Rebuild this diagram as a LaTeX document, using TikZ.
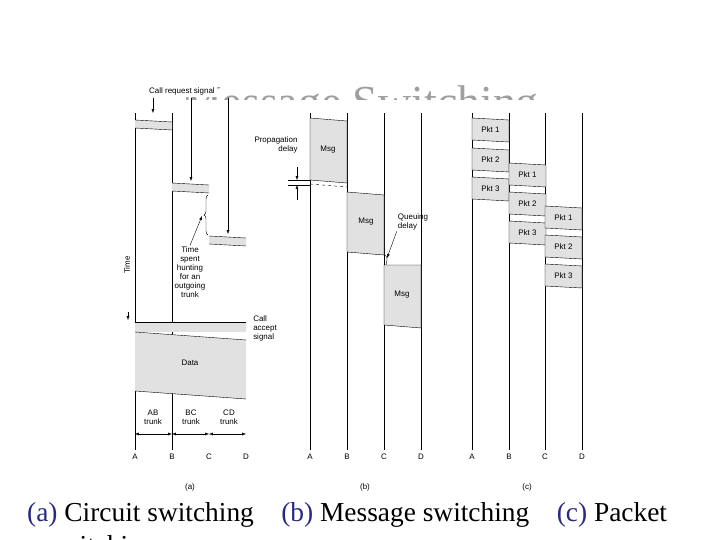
\documentclass[tikz,border=0pt]{standalone}
\usepackage{fontspec}
\setmainfont{Liberation Serif}
\setsansfont{Liberation Sans}
\usetikzlibrary{positioning,calc,arrows.meta,decorations.pathreplacing}
\definecolor{capblue}{RGB}{40,40,130}
\definecolor{pktgray}{RGB}{225,225,225}

\begin{document}
\begin{tikzpicture}[
    x=1bp, y=-1bp,
    lbl/.style={font=\sffamily\fontsize{8}{9}\selectfont, align=center, inner sep=1pt},
    captext/.style={anchor=base west, font=\fontsize{27.5}{31}\selectfont, inner sep=0pt},
    pkt/.style={draw=black, thin, fill=pktgray},
    arrow/.style={-{Latex[length=4pt,width=3pt]}, thin},
    darrow/.style={{Latex[length=4pt,width=3pt]}-{Latex[length=4pt,width=3pt]}, thin}
]
\useasboundingbox (0,0) rectangle (720,540);

% Title, mostly hidden behind the figure
\node[font=\fontsize{46}{46}\selectfont, text=gray!75, anchor=base] (title) at (360,118) {Message Switching};
\fill[white] (110,100) rectangle (610,482);

% ---------- (a) circuit switching ----------
\foreach \n/\x in {A/135,B/172,C/209,D/246} {
  \coordinate (a\n) at (\x,450);
  \node[lbl] (la\n) at (\x,457) {\n};
}
\draw (135,113) -- (aA);
\draw (172,113) -- (aB);

\fill[pktgray] (135,120) -- (172,122) -- (172,130) -- (135,128) -- cycle;
\draw (135,120) -- (172,122) (135,128) -- (172,130);
\fill[pktgray] (172,183) -- (209,185) -- (209,193) -- (172,191) -- cycle;
\draw (172,183) -- (209,185) (172,191) -- (209,193);
\fill[pktgray] (209,236) -- (246,238) -- (246,246) -- (209,244) -- cycle;
\draw (209,236) -- (246,238) (209,244) -- (246,246);

\node[lbl, fill=white, inner sep=2pt] (callreq) at (182,91) {Call request signal};
\coordinate (r1) at (153,113);
\coordinate (r2) at (191,181);
\coordinate (r3) at (228,234);
\draw[arrow] (153,98) -- (r1);
\draw[arrow] (191,98) -- (r2);
\draw[arrow] (228,98) -- (r3);

\draw[decorate, decoration={brace, amplitude=4pt}] (208,235) -- (208,195);
\node[lbl] (hunt) at (190,272) {Time\\spent\\hunting\\for an\\outgoing\\trunk};
\coordinate (brc) at (202,216);
\draw[arrow] (hunt.north) -- (brc);

\node[lbl, rotate=90] (time) at (127,265) {Time};
\coordinate (tdown) at (128,320);
\draw[arrow] (128,312) -- (tdown);

\fill[pktgray] (135,322) -- (246,322) -- (246,332) -- (135,332) -- cycle;
\draw (135,322) -- (246,322);
\fill[pktgray] (135,332) -- (246,340) -- (246,399) -- (135,391) -- cycle;
\draw (135,332) -- (246,340) (135,391) -- (246,399);
\node[lbl, align=left] (accept) at (265,328) {Call\\accept\\signal};
\node[lbl] (data) at (190,363) {Data};

\node[lbl] (ab) at (153,417) {AB\\trunk};
\node[lbl] (bc) at (191,417) {BC\\trunk};
\node[lbl] (cd) at (229,417) {CD\\trunk};
\draw[darrow] (135,434) -- (172,434);
\draw[darrow] (172,434) -- (209,434);
\draw[darrow] (209,434) -- (246,434);
\node[lbl] (capa) at (190,487) {(a)};

% ---------- (b) message switching ----------
\foreach \n/\x in {A/310,B/347,C/384,D/421} {
  \draw (\x,113) -- (\x,450);
  \node[lbl] (lb\n) at (\x,457) {\n};
}
\draw[pkt] (310,118) -- (347,121) -- (347,183) -- (310,180) -- cycle;
\node[lbl] (msg1) at (328,150) {Msg};
\draw[pkt] (347,192) -- (384,195) -- (384,255) -- (347,252) -- cycle;
\node[lbl] (msg2) at (366,222) {Msg};
\draw[pkt] (384,265) -- (421,265) -- (421,328) -- (384,325) -- cycle;
\node[lbl] (msg3) at (402,295) {Msg};
\draw[dashed, thin] (310,184) -- (347,187);

\node[lbl, align=right] (prop) at (276,145) {Propagation\\delay};
\draw (288,180) -- (310,180) (288,185) -- (310,185);
\coordinate (p1) at (297,180);
\coordinate (p2) at (297,185);
\draw[arrow] (297,167) -- (p1);
\draw[arrow] (297,200) -- (p2);

\node[lbl, align=left] (queue) at (413,222) {Queuing\\delay};
\coordinate (qd) at (387,258);
\draw[arrow] (queue.south west) -- (qd);
\draw (385,255) .. controls (389,258) and (386,262) .. (386,265);
\node[lbl] (capb) at (365,487) {(b)};

% ---------- (c) packet switching ----------
\foreach \n/\x in {A/472,B/509,C/545,D/582} {
  \draw (\x,113) -- (\x,450);
  \node[lbl] (lc\n) at (\x,457) {\n};
}
\foreach \x/\y/\t in {472/118/1,472/148/2,472/177/3,509/163/1,509/192/2,509/221/3,545/206/1,545/235/2,545/264/3} {
  \draw[pkt] (\x,\y) -- (\x+37,\y+2) -- (\x+37,\y+24) -- (\x,\y+22) -- cycle;
  \node[lbl] (pk\x\y) at (\x+18.5,\y+12) {Pkt \t};
}
\node[lbl] (capc) at (527,487) {(c)};

% Caption
\node[captext] (caption) at (27,521) {\textcolor{capblue}{(a)} Circuit switching\quad \textcolor{capblue}{(b)} Message switching\quad \textcolor{capblue}{(c)} Packet};
\node[captext] (caption2) at (49,554) {switching};
\end{tikzpicture}
\end{document}
